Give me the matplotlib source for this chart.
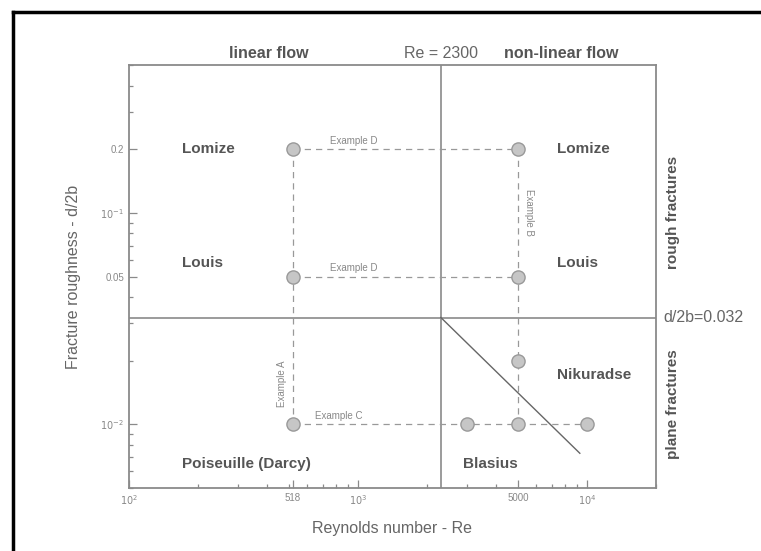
import matplotlib
matplotlib.use("Agg")
import matplotlib.pyplot as plt
from matplotlib.lines import Line2D
from matplotlib.ticker import FixedLocator, LogLocator, NullFormatter

plt.rcParams['font.family'] = ['Liberation Sans', 'DejaVu Sans']

# ---------------------------------------------------------------------------
# Datos
# ---------------------------------------------------------------------------
re_ejemplos = [518, 518, 518, 5000, 5000, 5000, 5000, 3000, 10000]
rug_ejemplos = [0.2, 0.05, 0.01, 0.2, 0.05, 0.02, 0.01, 0.01, 0.01]

re_critico = 2300
rug_critica = 0.032
diag_re = [2300, 9300]
diag_rug = [0.032, 0.0073]

# lineas de ejemplos: (re, rugosidad)
ej_d1 = ([518, 5000], [0.2, 0.2])
ej_d2 = ([518, 5000], [0.05, 0.05])
ej_c = ([518, 10000], [0.01, 0.01])
ej_a = ([518, 518], [0.2, 0.01])
ej_b = ([5000, 5000], [0.2, 0.01])

xticks = [100, 518, 1000, 5000, 10000]
xtick_labels = ["$10^2$", "518", "$10^3$", "5000", "$10^4$"]
yticks = [0.2, 0.1, 0.05, 0.01]
ytick_labels = ["0.2", "$10^{-1}$", "0.05", "$10^{-2}$"]

# ---------------------------------------------------------------------------
# Figura
# ---------------------------------------------------------------------------
gris = "#8a8a8a"
texto = "#555555"

fig = plt.figure(figsize=(7.61, 5.51), dpi=100)
ax = fig.add_axes([0.1695, 0.1143, 0.6925, 0.7677])
ax.set_xscale("log")
ax.set_yscale("log")
ax.set_xlim(100, 20000)
ax.set_ylim(0.005, 0.5)

for s in ax.spines.values():
    s.set_color(gris)
    s.set_linewidth(1.3)

ax.xaxis.set_major_locator(FixedLocator(xticks))
ax.set_xticklabels(xtick_labels)
ax.yaxis.set_major_locator(FixedLocator(yticks))
ax.set_yticklabels(ytick_labels)
ax.xaxis.set_minor_locator(LogLocator(base=10, subs=range(2, 10)))
ax.yaxis.set_minor_locator(LogLocator(base=10, subs=range(2, 10)))
ax.xaxis.set_minor_formatter(NullFormatter())
ax.yaxis.set_minor_formatter(NullFormatter())
ax.tick_params(which="both", direction="in", color=gris, labelcolor="#888888",
               labelsize=7, width=0.9)
ax.tick_params(which="major", length=6)
ax.tick_params(which="minor", length=3)

# lineas de separacion
ax.axvline(re_critico, color=gris, lw=1.2)
ax.axhline(rug_critica, color=gris, lw=1.2)
ax.plot(diag_re, diag_rug, color="#666666", lw=1.0)

# lineas de ejemplos
for xs, ys in [ej_d1, ej_d2, ej_c, ej_a, ej_b]:
    ax.plot(xs, ys, color="#999999", lw=0.9, ls=(0, (5, 4)), zorder=2)

ax.plot(re_ejemplos, rug_ejemplos, "o", ms=9.5, mfc="#c6c6c6", mec="#999999",
        mew=1.0, ls="none", zorder=3)

# etiquetas de ejemplos
ej = dict(fontsize=7, color="#888888")
ax.text(755, 0.208, "Example D", ha="left", va="bottom", **ej)
ax.text(755, 0.052, "Example D", ha="left", va="bottom", **ej)
ax.text(650, 0.0104, "Example C", ha="left", va="bottom", **ej)
ax.text(488, 0.0155, "Example A", rotation=90, ha="right", va="center", **ej)
ax.text(5300, 0.1, "Example B", rotation=-90, ha="left", va="center", **ej)

# regiones
bold = dict(fontsize=11, fontweight="bold", color=texto, va="center")
ax.text(170, 0.2, "Lomize", ha="left", **bold)
ax.text(170, 0.058, "Louis", ha="left", **bold)
ax.text(7400, 0.2, "Lomize", ha="left", **bold)
ax.text(7400, 0.058, "Louis", ha="left", **bold)
ax.text(7400, 0.0172, "Nikuradse", ha="left", **bold)
ax.text(2870, 0.0065, "Blasius", ha="left", **bold)
ax.text(170, 0.0065, "Poiseuille (Darcy)", ha="left", **bold)

# textos superiores
ax.text(408, 0.52, "linear flow", ha="center", va="bottom", fontsize=11.5,
        color=texto, fontweight="bold")
ax.text(re_critico, 0.52, "Re = 2300", ha="center", va="bottom", fontsize=11.5,
        color="#666666")
ax.text(7690, 0.52, "non-linear flow", ha="center", va="bottom", fontsize=11.5,
        color=texto, fontweight="bold")

# textos a la derecha
ax.text(22200, 0.1, "rough fractures", rotation=90, ha="left", va="center",
        fontsize=11, fontweight="bold", color=texto)
ax.text(22200, 0.0125, "plane fractures", rotation=90, ha="left", va="center",
        fontsize=11, fontweight="bold", color=texto)
ax.text(21500, rug_critica, "d/2b=0.032", ha="left", va="center",
        fontsize=11.5, color="#666666")

ax.set_xlabel("Reynolds number - Re", fontsize=11.5, color="#666666", labelpad=10)
ax.set_ylabel("Fracture roughness - d/2b", fontsize=11.5, color="#666666", labelpad=14)

# marco negro (izquierda y arriba)
fig.add_artist(Line2D([13 / 761, 13 / 761], [0, 1 - 12 / 551], color="black",
                      lw=2.5, transform=fig.transFigure))
fig.add_artist(Line2D([13 / 761, 1], [1 - 12 / 551, 1 - 12 / 551], color="black",
                      lw=2.5, transform=fig.transFigure))

fig.savefig("out.png", dpi=100, facecolor="white")
